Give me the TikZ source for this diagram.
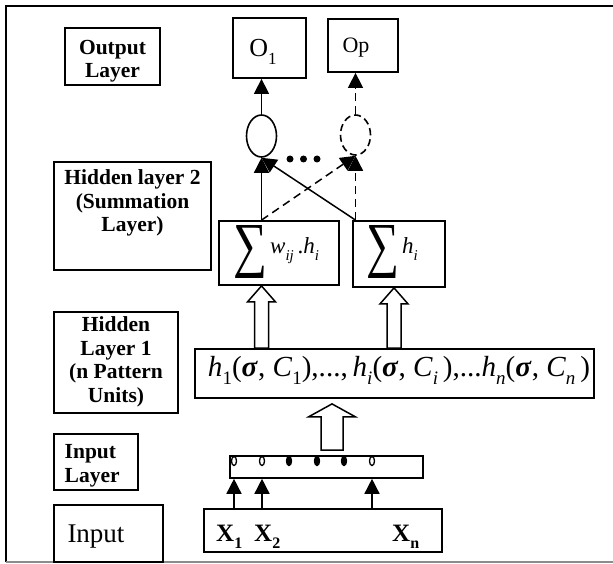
\documentclass[tikz,border=0pt]{standalone}
\usepackage{fontspec}
\usepackage{graphicx}
\setmainfont{Liberation Serif}
\usetikzlibrary{arrows.meta,shapes.geometric,calc}

% lowered small index
\newcommand\lowr[2][15]{\raisebox{-0.28em}{\fontsize{#1}{#1}\selectfont #2}}
\newcommand\bsig{\textbf{\textit{σ}}}

\begin{document}
\begin{tikzpicture}[x=1pt,y=-1pt,
  box/.style={draw, line width=1.8pt, rectangle, inner sep=0pt},
  lbl/.style={font=\fontsize{21.5}{23.5}\selectfont\bfseries, align=center, inner sep=0pt},
  conn/.style={line width=1.5pt, -{Triangle[width=15pt,length=15pt]}},
  dconn/.style={conn, dash pattern=on 8pt off 5pt},
  hollowarr/.style n args={3}{line width=1.5pt, fill=white, to path={
    let \p1=(\tikztostart), \p2=(\tikztotarget) in
    (\x1-#1,\y1) -- (\x1-#1,\y2-#3) -- (\x1-#2,\y2-#3) -- (\x1,\y2)
    -- (\x1+#2,\y2-#3) -- (\x1+#1,\y2-#3) -- (\x1+#1,\y1) -- cycle}},
  bead/.style={ellipse, draw, line width=1.3pt, minimum width=5pt, minimum height=9pt, inner sep=0pt},
]
\useasboundingbox (0,0) rectangle (613,564);

% outer frame
\draw[line width=1.8pt] (625,6) -- (6,6) -- (6,562);
\draw[line width=1.8pt, black!45] (6,562) -- (625,562);

% column references
\coordinate (k3) at (394,0);
\coordinate (k4) at (332,0);

% output layer
\node[box, minimum width=95pt, minimum height=57pt] (outL) at (112.5,56.5) {};
\node[lbl] (outLt) at (112.5,61) {Output\\Layer};
\node[box, minimum width=73pt, minimum height=60pt] (o1) at (269.5,48) {};
\node[anchor=base, inner sep=0pt, font=\fontsize{26}{26}\selectfont] (o1t) at (263,57) {O\lowr[17]{1}};
\node[box, minimum width=70pt, minimum height=53pt] (op) at (363,45.5) {};
\node[anchor=base, inner sep=0pt, font=\fontsize{22}{22}\selectfont] (opt) at (356,53) {Op};

% summation units
\node[ellipse, draw, line width=1.6pt, minimum width=30pt, minimum height=42pt, inner sep=0pt] (e1) at (261.5,136) {};
\node[ellipse, draw, line width=1.6pt, dash pattern=on 7pt off 4pt, minimum width=30pt, minimum height=40pt, inner sep=0pt] (e2) at (355.5,135) {};
\foreach \i/\xx in {1/290,2/303.5,3/317}
  \node[circle, fill, minimum size=7pt, inner sep=0pt] (d\i) at (\xx,159) {};

\draw[conn] (e1.north) -- (o1.south -| e1.north);
\draw[dconn] (e2.north) -- (op.south -| e2.north);

% hidden layer 2
\node[box, minimum width=157pt, minimum height=108pt] (hl2) at (132.5,216) {};
\node[lbl] (hl2t) at (132.5,203) {Hidden layer 2\\(Summation\\Layer)};
\node[box, minimum width=120pt, minimum height=64pt] (s1) at (279,253) {};
\node[inner sep=0pt] (sg1) at (250,252) {\resizebox{34pt}{40pt}{∑}};
\node[anchor=base west, inner sep=0pt, font=\fontsize{23}{23}\selectfont] (s1t) at (270,254)
  {\textit{w}\lowr{\textit{ij}}\,.\textit{h}\lowr{\textit{i}}};
\node[box, minimum width=92pt, minimum height=66pt] (s2) at (399,254) {};
\node[inner sep=0pt] (sg2) at (383,252) {\resizebox{33pt}{40pt}{∑}};
\node[anchor=base west, inner sep=0pt, font=\fontsize{23}{23}\selectfont] (s2t) at (402,254)
  {\textit{h}\lowr{\textit{i}}};

\draw[conn] (s1.north -| e1.south) -- (e1.south);
\draw[dconn] (s1.north -| e1.south) -- (e2.south);
\draw[conn] (s2.north -| e2.south) -- (e1.south);
\draw[dconn] (s2.north -| e2.south) -- (e2.south);

% hidden layer 1
\node[box, minimum width=124pt, minimum height=101pt] (hl1) at (116,362.5) {};
\node[lbl] (hl1t) at (116,362) {Hidden\\Layer 1\\(n Pattern\\Units)};
\node[box, minimum width=399pt, minimum height=49pt] (pat) at (394.5,373.5) {};
\node[inner sep=0pt, font=\fontsize{23}{23}\selectfont] (patt) at (399,370) {\resizebox{382pt}{!}{%
  \textit{h}\lowr{1}(\bsig, \textit{C}\lowr{1}),...,\,\textit{h}\lowr{\textit{i}}(\bsig, \textit{C}\lowr{\textit{i}}\,),...\textit{h}\lowr{\textit{n}}(\bsig, \textit{C}\lowr{\textit{n}}\,)}};

\draw[hollowarr={7pt}{14pt}{16pt}] (pat.north -| e1.south) to (s1.south -| e1.south);
\draw[hollowarr={7pt}{14pt}{16pt}] (pat.north -| k3) to (s2.south -| k3);

% input layer
\node[box, minimum width=84pt, minimum height=56pt] (inL) at (96,462) {};
\node[lbl, align=left, anchor=west] (inLt) at (64.5,466) {Input\\Layer};
\node[draw, line width=1.6pt, minimum width=193pt, minimum height=22pt, inner sep=0pt] (bar) at (326.5,467) {};
\node[bead] (c1) at (234,461) {};
\node[bead] (c2) at (262,461) {};
\node[bead] (cn) at (372,461) {};
\foreach \i/\xx in {1/289,2/317,3/344}
  \node[bead, fill] (b\i) at (\xx,461) {};

\draw[hollowarr={11pt}{23.5pt}{13pt}] ($(bar.north -| k4)+(0,-5)$) to ($(pat.south -| k4)+(0,5)$);

% input
\node[box, minimum width=109pt, minimum height=57pt] (inp) at (108.5,533.5) {};
\node[anchor=base, inner sep=0pt, font=\fontsize{27}{27}\selectfont] (inpt) at (96,542) {Input};
\node[box, minimum width=238pt, minimum height=43pt] (xb) at (323,530.5) {};
\node[anchor=base west, inner sep=0pt, font=\fontsize{25}{25}\selectfont\bfseries] (x1) at (216,541) {X\lowr[16]{1}};
\node[anchor=base west, inner sep=0pt, font=\fontsize{25}{25}\selectfont\bfseries] (x2) at (254,541) {X\lowr[16]{2}};
\node[anchor=base west, inner sep=0pt, font=\fontsize{25}{25}\selectfont\bfseries] (xn) at (392,541) {X\lowr[16]{n}};

\draw[conn] (xb.north -| c1) -- (bar.south -| c1);
\draw[conn] (xb.north -| c2) -- (bar.south -| c2);
\draw[conn] (xb.north -| cn) -- (bar.south -| cn);
\end{tikzpicture}
\end{document}
